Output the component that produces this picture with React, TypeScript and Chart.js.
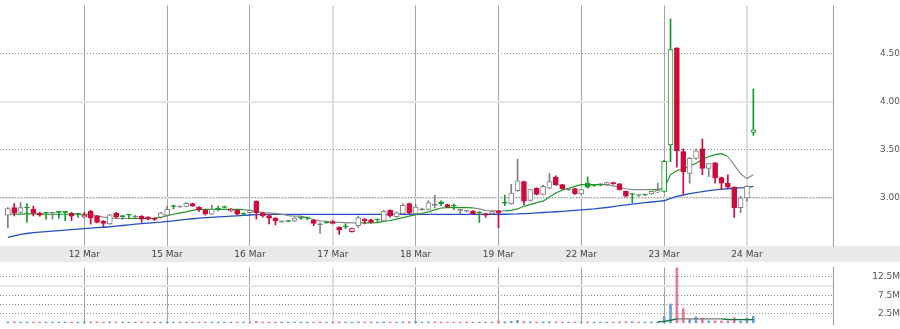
import React, { useEffect, useRef } from 'react';
import { Chart, registerables } from 'chart.js';

Chart.register(...registerables);

// ---------- data ----------
const FIRST_BAR = 1; // bar index of first candle (13 half-hour bars per day)
const dayLabels = ['12 Mar', '15 Mar', '16 Mar', '17 Mar', '18 Mar', '19 Mar', '22 Mar', '23 Mar', '24 Mar'];
const dayStartBars = [13, 26, 39, 52, 65, 78, 91, 104, 117];
const midweekDays = ['17 Mar', '24 Mar'];
const priceTicks = [3.0, 3.5, 4.0, 4.5];
const volumeTicks = [2.5, 5, 7.5, 10, 12.5];
const volumeLabelTicks = [2.5, 7.5, 12.5];

const opens = [
  2.82, 2.90, 2.85, 2.895, 2.88, 2.84, 2.84, 2.84, 2.85, 2.85,
  2.84, 2.83, 2.80, 2.86, 2.81, 2.76, 2.73, 2.84, 2.805, 2.82,
  2.81, 2.81, 2.80, 2.79, 2.80, 2.82, 2.91, 2.905, 2.91, 2.94,
  2.905, 2.87, 2.83, 2.88, 2.90, 2.865, 2.87, 2.83, 2.847, 2.965,
  2.845, 2.815, 2.79, 2.75, 2.755, 2.76, 2.79, 2.79, 2.77, 2.73,
  2.74, 2.755, 2.695, 2.70, 2.65, 2.71, 2.78, 2.773, 2.77, 2.76,
  2.871, 2.805, 2.837, 2.94, 2.837, 2.875, 2.88, 2.925, 2.96, 2.93,
  2.92, 2.875, 2.87, 2.864, 2.845, 2.837, 2.837, 2.864, 2.945, 2.94,
  3.075, 3.17, 2.973, 3.10, 3.035, 3.10, 3.214, 3.137, 3.085, 3.096,
  3.04, 3.15, 3.13, 3.135, 3.137, 3.16, 3.147, 3.068, 3.035, 3.03,
  3.03, 3.04, 3.06, 3.068, 3.55, 4.558, 3.48, 3.255, 3.41, 3.51,
  3.306, 3.364, 3.21, 3.153, 3.11, 2.898, 3.0, 3.68,
];
const highs = [
  2.90, 2.94, 2.95, 2.94, 2.915, 2.85, 2.85, 2.85, 2.86, 2.86,
  2.85, 2.84, 2.85, 2.871, 2.815, 2.765, 2.83, 2.85, 2.815, 2.83,
  2.82, 2.815, 2.805, 2.795, 2.85, 2.915, 2.925, 2.915, 2.95, 2.945,
  2.91, 2.875, 2.925, 2.915, 2.915, 2.89, 2.875, 2.845, 2.875, 2.97,
  2.85, 2.82, 2.795, 2.76, 2.765, 2.795, 2.80, 2.80, 2.775, 2.74,
  2.75, 2.765, 2.70, 2.73, 2.685, 2.81, 2.785, 2.78, 2.78, 2.87,
  2.875, 2.855, 2.94, 2.945, 2.93, 2.895, 2.97, 3.027, 2.97, 2.935,
  2.935, 2.875, 2.87, 2.868, 2.855, 2.84, 2.862, 2.87, 3.03, 3.14,
  3.40, 3.175, 3.09, 3.105, 3.13, 3.255, 3.23, 3.14, 3.09, 3.10,
  3.09, 3.22, 3.14, 3.145, 3.165, 3.165, 3.15, 3.07, 3.045, 3.035,
  3.037, 3.072, 3.153, 3.39, 4.86, 4.56, 3.51, 3.42, 3.51, 3.61,
  3.36, 3.37, 3.215, 3.24, 3.115, 3.017, 3.125, 4.13,
];
const lows = [
  2.69, 2.813, 2.84, 2.745, 2.813, 2.81, 2.78, 2.78, 2.79, 2.762,
  2.762, 2.796, 2.796, 2.728, 2.74, 2.70, 2.725, 2.795, 2.78, 2.79,
  2.795, 2.745, 2.77, 2.765, 2.79, 2.81, 2.885, 2.90, 2.905, 2.91,
  2.86, 2.82, 2.825, 2.865, 2.895, 2.86, 2.82, 2.82, 2.84, 2.78,
  2.80, 2.73, 2.72, 2.745, 2.75, 2.755, 2.775, 2.77, 2.71, 2.63,
  2.735, 2.73, 2.62, 2.68, 2.645, 2.694, 2.73, 2.74, 2.75, 2.755,
  2.80, 2.80, 2.83, 2.835, 2.82, 2.87, 2.875, 2.898, 2.92, 2.90,
  2.877, 2.837, 2.855, 2.83, 2.745, 2.796, 2.832, 2.69, 2.92, 2.935,
  3.07, 2.93, 2.965, 3.03, 3.03, 3.095, 3.13, 3.09, 3.075, 3.035,
  3.035, 3.10, 3.12, 3.125, 3.13, 3.14, 3.08, 3.01, 2.95, 3.015,
  3.025, 3.035, 3.055, 3.06, 3.375, 3.32, 3.035, 3.153, 3.40, 3.24,
  3.22, 3.153, 3.085, 3.10, 2.796, 2.847, 2.966, 3.65,
];
const closes = [
  2.89, 2.84, 2.90, 2.90, 2.84, 2.82, 2.845, 2.842, 2.855, 2.855,
  2.81, 2.83, 2.82, 2.79, 2.745, 2.735, 2.823, 2.80, 2.81, 2.822,
  2.80, 2.78, 2.78, 2.775, 2.845, 2.88, 2.915, 2.91, 2.943, 2.915,
  2.875, 2.83, 2.88, 2.89, 2.905, 2.88, 2.83, 2.835, 2.871, 2.847,
  2.813, 2.79, 2.76, 2.755, 2.76, 2.79, 2.795, 2.795, 2.735, 2.72,
  2.745, 2.735, 2.667, 2.705, 2.68, 2.796, 2.762, 2.745, 2.775, 2.864,
  2.813, 2.845, 2.922, 2.84, 2.905, 2.885, 2.95, 2.922, 2.94, 2.905,
  2.915, 2.87, 2.862, 2.837, 2.847, 2.82, 2.857, 2.847, 2.95, 3.05,
  3.178, 2.966, 3.085, 3.035, 3.12, 3.17, 3.137, 3.096, 3.085, 3.04,
  3.085, 3.11, 3.137, 3.14, 3.16, 3.147, 3.085, 3.017, 3.04, 3.025,
  3.032, 3.068, 3.075, 3.38, 4.54, 3.49, 3.27, 3.41, 3.49, 3.306,
  3.357, 3.21, 3.153, 3.11, 2.898, 3.0, 3.12, 3.708,
];
const volumes = [
  0.35, 0.3, 0.25, 0.2, 0.25, 0.15, 0.2, 0.15, 0.2, 0.25,
  0.2, 0.15, 0.2, 0.3, 0.3, 0.25, 0.35, 0.2, 0.15, 0.15,
  0.15, 0.2, 0.15, 0.15, 0.25, 0.3, 0.2, 0.15, 0.25, 0.2,
  0.2, 0.25, 0.25, 0.15, 0.15, 0.15, 0.2, 0.15, 0.2, 0.45,
  0.2, 0.25, 0.2, 0.15, 0.15, 0.2, 0.15, 0.15, 0.25, 0.3,
  0.15, 0.15, 0.3, 0.15, 0.2, 0.35, 0.2, 0.2, 0.15, 0.3,
  0.25, 0.2, 0.3, 0.3, 0.45, 0.2, 0.3, 0.35, 0.2, 0.2,
  0.2, 0.2, 0.15, 0.2, 0.2, 0.15, 0.2, 0.5, 0.35, 0.45,
  0.75, 0.4, 0.3, 0.25, 0.3, 0.35, 0.3, 0.25, 0.2, 0.25,
  0.25, 0.3, 0.2, 0.2, 0.25, 0.2, 0.3, 0.3, 0.4, 0.25,
  0.2, 0.3, 0.35, 1.8, 5.1, 15.5, 3.93, 0.9, 1.66, 1.36,
  0.6, 0.6, 0.6, 0.5, 1.5, 0.55, 1.36, 1.9,
];
const shortMa = [
  2.83, 2.83, 2.832, 2.834, 2.834, 2.832, 2.83, 2.83, 2.83, 2.83,
  2.83, 2.83, 2.83, 2.825, 2.815, 2.80, 2.79, 2.787, 2.786, 2.786,
  2.786, 2.786, 2.786, 2.788, 2.80, 2.815, 2.83, 2.845, 2.855, 2.87,
  2.88, 2.88, 2.88, 2.88, 2.88, 2.88, 2.88, 2.878, 2.87, 2.855,
  2.848, 2.845, 2.84, 2.83, 2.815, 2.81, 2.81, 2.795, 2.775, 2.762,
  2.757, 2.748, 2.745, 2.742, 2.74, 2.74, 2.74, 2.74, 2.742, 2.755,
  2.765, 2.78, 2.795, 2.81, 2.825, 2.84, 2.855, 2.875, 2.895, 2.898,
  2.898, 2.898, 2.898, 2.896, 2.885, 2.868, 2.864, 2.864, 2.865, 2.87,
  2.885, 2.915, 2.93, 2.95, 2.966, 3.01, 3.05, 3.08, 3.10, 3.12,
  3.137, 3.137, 3.137, 3.137, 3.137, 3.125, 3.11, 3.095, 3.085, 3.085,
  3.085, 3.085, 3.085, 3.10, 3.24, 3.285, 3.30, 3.33, 3.36, 3.40,
  3.43, 3.45, 3.46, 3.43, 3.34, 3.25, 3.20, 3.24,
];
const longMa = [
  2.59, 2.605, 2.62, 2.63, 2.64, 2.645, 2.65, 2.655, 2.66, 2.665,
  2.67, 2.675, 2.68, 2.685, 2.69, 2.695, 2.70, 2.707, 2.713, 2.72,
  2.727, 2.733, 2.738, 2.743, 2.748, 2.755, 2.762, 2.769, 2.776, 2.783,
  2.79, 2.794, 2.798, 2.802, 2.806, 2.81, 2.814, 2.818, 2.822, 2.826,
  2.828, 2.828, 2.828, 2.828, 2.828, 2.828, 2.828, 2.828, 2.828, 2.828,
  2.828, 2.828, 2.828, 2.828, 2.828, 2.828, 2.828, 2.828, 2.828, 2.828,
  2.828, 2.828, 2.828, 2.828, 2.828, 2.828, 2.828, 2.828, 2.828, 2.828,
  2.828, 2.828, 2.828, 2.828, 2.828, 2.828, 2.829, 2.83, 2.83, 2.831,
  2.833, 2.837, 2.84, 2.844, 2.848, 2.852, 2.856, 2.86, 2.865, 2.87,
  2.875, 2.88, 2.885, 2.893, 2.90, 2.91, 2.92, 2.928, 2.935, 2.942,
  2.95, 2.957, 2.963, 2.97, 2.995, 3.015, 3.03, 3.045, 3.055, 3.065,
  3.075, 3.083, 3.09, 3.095, 3.10, 3.105, 3.11, 3.12,
];
// volume average, drawn from bar 103 on
const volumeMaStart = 103;
const volumeMa = [0.3, 0.45, 0.75, 1.1, 1.15, 1.15, 1.15, 1.15, 1.15, 1.15, 1.15, 0.95, 0.92, 0.92, 0.92, 0.92];

// ---------- helpers ----------
const X_MIN = -0.23;
const X_MAX = 130.5;
const FONT = { family: 'DejaVu Sans', size: 9 };
const RED = '#cc0a3c';
const GREEN = '#17962a';
const GRAY = '#808080';

function candleStyle(k: number) {
  const o = opens[k];
  const c = closes[k];
  const pc = k > 0 ? closes[k - 1] : o;
  if (Math.abs(c - o) < 0.012) {
    const col = c >= pc ? GREEN : GRAY;
    return { fill: col, border: col };
  }
  if (c > o) {
    if (c < pc) return { fill: '#ffffff', border: RED };
    const col = c - pc > 0.25 ? GREEN : GRAY;
    return { fill: '#ffffff', border: col };
  }
  if (c > pc) return { fill: GREEN, border: GREEN };
  return { fill: RED, border: RED };
}

function xAxis(showLabels: boolean) {
  const isMid = (ctx: any) => ctx && ctx.index !== undefined && midweekDays.includes(dayLabels[ctx.index]);
  return {
    type: 'linear',
    min: X_MIN,
    max: X_MAX,
    offset: false,
    position: 'bottom',
    afterBuildTicks: (s: any) => {
      s.ticks = dayStartBars.map((v) => ({ value: v }));
    },
    afterFit: (s: any) => {
      s.height = showLabels ? 16 : 0;
    },
    grid: {
      display: true,
      drawTicks: false,
      offset: false,
      color: (ctx: any) => (isMid(ctx) ? '#dddddd' : '#a4a4a4'),
      lineWidth: (ctx: any) => (isMid(ctx) ? 2 : 1),
    },
    border: { display: false },
    ticks: {
      display: showLabels,
      autoSkip: false,
      maxRotation: 0,
      minRotation: 0,
      padding: 3,
      font: FONT,
      color: '#444444',
      callback: (v: any) => {
        const i = dayStartBars.indexOf(Number(v));
        return i >= 0 ? dayLabels[i] : '';
      },
    },
  };
}

function gridAxis(min: number, max: number, ticks: number[]) {
  return {
    type: 'linear',
    position: 'right',
    min,
    max,
    weight: 0,
    z: -1,
    afterBuildTicks: (s: any) => {
      s.ticks = ticks.map((v) => ({ value: v }));
    },
    afterFit: (s: any) => {
      s.width = 0;
    },
    ticks: { display: false },
    grid: { drawTicks: false, color: '#e6e6e6', lineWidth: 2 },
    border: { display: true, color: '#9c9c9c', width: 1 },
  };
}

const bandPlugin = {
  id: 'dateBand',
  beforeDraw(chart: any) {
    const { ctx, chartArea, width, height } = chart;
    ctx.save();
    ctx.fillStyle = '#e9e9e9';
    ctx.fillRect(0, chartArea.bottom, width, height - chartArea.bottom);
    ctx.restore();
  },
};

export default function App() {
  const priceRef = useRef<HTMLCanvasElement>(null);
  const volRef = useRef<HTMLCanvasElement>(null);

  useEffect(() => {
    const n = opens.length;
    const idx = Array.from({ length: n }, (_, k) => k);
    const styles = idx.map(candleStyle);

    const wicks = idx.map((k) => ({ x: FIRST_BAR + k, y: [lows[k], highs[k]] }));
    const bodies = idx.map((k) => ({ x: FIRST_BAR + k, y: [opens[k], closes[k]] }));
    const shortPts = idx.map((k) => ({ x: FIRST_BAR + k, y: shortMa[k] }));
    const longPts = idx.map((k) => ({ x: FIRST_BAR + k, y: longMa[k] }));

    const priceChart = new Chart(priceRef.current as HTMLCanvasElement, {
      type: 'bar',
      data: {
        datasets: [
          {
            type: 'line',
            data: longPts,
            borderColor: '#2450c6',
            borderWidth: 1.3,
            pointRadius: 0,
            tension: 0,
            order: 5,
          } as any,
          {
            type: 'line',
            data: shortPts,
            borderColor: GREEN,
            borderWidth: 1.2,
            pointRadius: 0,
            tension: 0,
            order: 4,
            segment: {
              borderColor: (ctx: any) => {
                const j = ctx.p1DataIndex;
                const back = Math.max(0, j - 4);
                return shortMa[j] >= shortMa[back] - 0.005 ? '#1b9a23' : '#8a8a8a';
              },
            },
          } as any,
          {
            type: 'bar',
            data: wicks,
            grouped: false,
            barThickness: 1,
            minBarLength: 1,
            backgroundColor: styles.map((s) => s.border),
            borderWidth: 0,
            order: 2,
          } as any,
          {
            type: 'bar',
            data: bodies,
            grouped: false,
            barThickness: 5,
            minBarLength: 1,
            backgroundColor: styles.map((s) => s.fill),
            borderColor: styles.map((s) => s.border),
            borderWidth: 1,
            borderSkipped: false,
            order: 1,
          } as any,
        ],
      },
      options: {
        animation: false,
        responsive: false,
        devicePixelRatio: 1,
        events: [],
        layout: { padding: 0 },
        plugins: { legend: { display: false }, tooltip: { enabled: false } },
        scales: {
          x: xAxis(true) as any,
          yg: gridAxis(2.5, 5.0, [3.0, 4.0]) as any,
          y: {
            type: 'linear',
            position: 'right',
            min: 2.5,
            max: 5.0,
            weight: 1,
            afterBuildTicks: (s: any) => {
              s.ticks = priceTicks.map((v) => ({ value: v }));
            },
            afterFit: (s: any) => {
              s.width = 67;
            },
            grid: {
              drawTicks: false,
              color: (ctx: any) => (ctx.tick && ctx.tick.value === 4 ? 'rgba(0,0,0,0)' : '#8e8e8e'),
              lineWidth: 1,
            },
            border: { display: false, dash: [1, 2] },
            ticks: {
              crossAlign: 'far',
              padding: 0,
              font: FONT,
              color: '#555555',
              callback: (v: any) => Number(v).toFixed(2),
            },
          } as any,
        },
      },
      plugins: [bandPlugin],
    });

    const volBars = idx.map((k) => ({ x: FIRST_BAR + k, y: volumes[k] }));
    const volMaPts = volumeMa.map((v, j) => ({ x: volumeMaStart + j, y: v }));

    const volChart = new Chart(volRef.current as HTMLCanvasElement, {
      type: 'bar',
      data: {
        datasets: [
          {
            type: 'line',
            data: volMaPts,
            borderColor: '#0f7a34',
            borderWidth: 1.3,
            pointRadius: 0,
            order: 1,
            segment: {
              borderColor: (ctx: any) => (volumeMa[ctx.p1DataIndex] >= 1.0 && volumeMa[ctx.p0DataIndex] >= 1.0 ? '#7a7a7a' : '#0f7a34'),
            },
          } as any,
          {
            type: 'bar',
            data: volBars,
            grouped: false,
            barThickness: 2,
            minBarLength: 1,
            backgroundColor: idx.map((k) => (closes[k] >= opens[k] ? '#6d9fd4' : '#e47b97')),
            borderWidth: 0,
            order: 2,
          } as any,
        ],
      },
      options: {
        animation: false,
        responsive: false,
        devicePixelRatio: 1,
        events: [],
        layout: { padding: 0 },
        plugins: { legend: { display: false }, tooltip: { enabled: false } },
        scales: {
          x: xAxis(false) as any,
          yg: gridAxis(-0.15, 15, [10]) as any,
          y: {
            type: 'linear',
            position: 'right',
            min: -0.15,
            max: 15,
            weight: 1,
            afterBuildTicks: (s: any) => {
              s.ticks = volumeTicks.map((v) => ({ value: v }));
            },
            afterFit: (s: any) => {
              s.width = 67;
            },
            grid: {
              drawTicks: false,
              color: (ctx: any) => (ctx.tick && ctx.tick.value === 10 ? 'rgba(0,0,0,0)' : '#8e8e8e'),
              lineWidth: 1,
            },
            border: { display: false, dash: [1, 2] },
            ticks: {
              crossAlign: 'far',
              padding: 0,
              font: FONT,
              color: '#555555',
              autoSkip: false,
              callback: (v: any) => (volumeLabelTicks.includes(Number(v)) ? `${v}M` : ''),
            },
          } as any,
        },
      },
    });

    return () => {
      priceChart.destroy();
      volChart.destroy();
    };
  }, []);

  return (
    <div style={{ position: 'absolute', left: 0, top: 0, width: 900, height: 329, background: '#ffffff' }}>
      <canvas ref={priceRef} width={900} height={262} style={{ display: 'block', width: 900, height: 262 }} />
      <canvas ref={volRef} width={900} height={67} style={{ display: 'block', width: 900, height: 67 }} />
    </div>
  );
}
